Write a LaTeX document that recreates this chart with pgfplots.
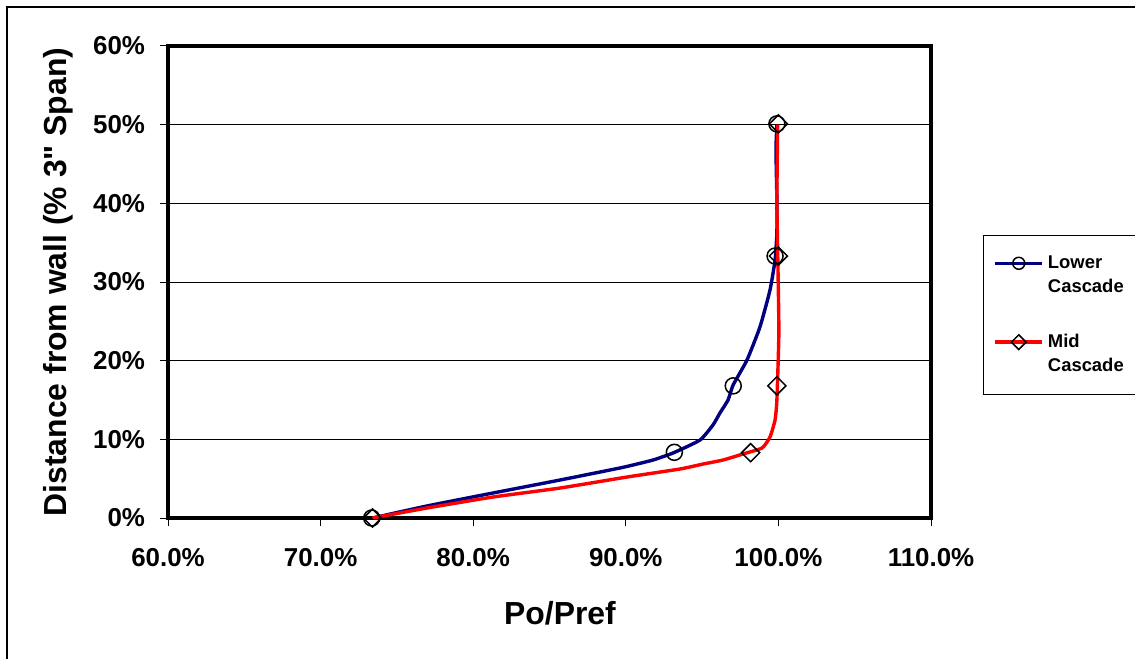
\documentclass[border=0pt]{standalone}
\usepackage{fontspec}
\setmainfont{Liberation Sans}[Ligatures=TeXOff]
\usepackage{pgfplots}
\pgfplotsset{compat=1.18}
\definecolor{navyc}{RGB}{0,0,128}
\definecolor{redc}{RGB}{255,0,0}
\begin{document}
\begin{tikzpicture}[x=1bp,y=1bp]
\useasboundingbox (0,0) rectangle (567.5,329);
\clip (0,0) rectangle (567.5,329);
\draw[line width=0.75bp] (3.5,-10) -- (3.5,325.5) -- (590,325.5);
\begin{axis}[
  at={(84bp,70bp)}, anchor=south west,
  scale only axis, width=381.5bp, height=236bp,
  xmin=60, xmax=110, ymin=0, ymax=60,
  xtick={60,70,...,110}, ytick={0,10,...,60},
  axis line style={line width=1.7bp},
  ymajorgrids, grid style={black, line width=0.5bp},
  tick align=outside, major tick length=4bp,
  tick style={black, line width=0.5bp},
  xtick pos=bottom, ytick pos=left,
  /pgf/number format/assume math mode=true,
  ticklabel style={font=\bfseries\fontsize{13}{15}\selectfont},
  xticklabel={\pgfmathprintnumber[fixed,fixed zerofill,precision=1]{\tick}\%},
  yticklabel={\pgfmathprintnumber[fixed,precision=0]{\tick}\%},
  xticklabel style={yshift=-7.5bp},
  yticklabel style={xshift=-4bp},
  xlabel={Po/Pref},
  ylabel={Distance from wall (\% 3" Span)},
  every axis x label/.style={at={(axis description cs:0.5138,-0.2013)}, anchor=center, font=\bfseries\fontsize{16}{18}\selectfont},
  every axis y label/.style={at={(axis description cs:-0.1442,0.5)}, rotate=90, anchor=center, font=\bfseries\fontsize{16}{18}\selectfont},
  legend style={at={(rel axis cs:1.0682,0.5996)}, anchor=north west,
    draw=black, line width=0.5bp,
    font=\bfseries\fontsize{9.25}{12}\selectfont,
    nodes={align=left}, row sep=15.5bp, inner xsep=5bp, inner ysep=8bp},
  legend cell align=left,
  legend image code/.code={\draw[#1, yshift=6bp, mark repeat=2, mark phase=2] plot coordinates {(0bp,0bp) (11.75bp,0bp) (23.5bp,0bp)};},
]
\addplot[navyc, line width=1.7bp, forget plot, smooth, tension=0.3] coordinates {
(73.4,0) (76.97,1.53) (81.30,3.18) (85.69,4.83) (89.62,6.36) (90.73,6.86)
(91.78,7.37) (93.09,8.26) (94.86,9.91) (95.71,11.82) (96.17,13.35) (96.70,15.0)
(97.03,16.9) (97.94,20.08) (98.79,24.28) (99.45,28.98) (99.78,32.8)
(99.9,36.2) (99.9,40.4) (99.84,46.8) (99.9,50)};
\addplot[redc, line width=1.7bp, forget plot, smooth, tension=0.3] coordinates {
(73.4,0) (76.97,1.27) (81.3,2.67) (85.69,3.81) (90.08,5.21) (93.55,6.23)
(95.06,6.86) (96.37,7.37) (97.68,8.14) (98.93,8.9) (99.45,10.3) (99.78,12.46)
(99.9,15.0) (100.03,23.5) (99.97,31.9) (99.9,40.4) (99.95,50)};
\addplot[only marks, mark=o, black, mark size=4bp, mark options={line width=0.75bp}, forget plot] coordinates {
(73.35,0) (93.18,8.35) (97.04,16.8) (99.78,33.3) (99.9,50.1)};
\addplot[only marks, mark=square, black, mark size=3.2bp, mark options={line width=0.75bp, rotate=45}, forget plot] coordinates {
(73.4,0) (98.18,8.3) (99.9,16.8) (100.0,33.3) (100.0,50.1)};
\addlegendimage{navyc, line width=1.7bp, mark=o, mark size=3bp, mark options={black, line width=0.75bp}}
\addlegendentry{\makebox[50bp][l]{Lower}\\Cascade}
\addlegendimage{redc, line width=1.7bp, mark=square, mark size=2.6bp, mark options={black, line width=0.75bp, rotate=45}}
\addlegendentry{Mid\\Cascade}
\end{axis}
\end{tikzpicture}
\end{document}
